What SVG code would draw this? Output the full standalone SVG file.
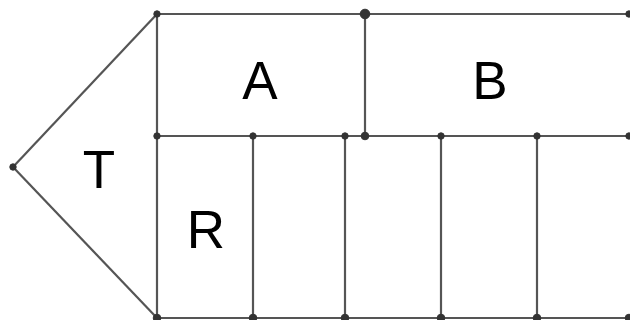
<svg xmlns="http://www.w3.org/2000/svg" width="630" height="320" viewBox="0 0 630 320">
<style>
.ln{stroke:#555;stroke-width:2.2;fill:none}
.pt{fill:#333;stroke:#333;stroke-width:1}
.lb{font-family:"Liberation Sans",Arial,sans-serif;font-size:53px;fill:#000;text-anchor:middle}
</style>
<rect width="630" height="320" fill="#fff"/>
<g id="connectors">
<line class="ln" x1="13" y1="167" x2="157" y2="14"/>
<line class="ln" x1="13" y1="167" x2="157" y2="318"/>
<line class="ln" x1="157" y1="14" x2="630" y2="14"/>
<line class="ln" x1="157" y1="136" x2="630" y2="136"/>
<line class="ln" x1="157" y1="318" x2="630" y2="318"/>
<line class="ln" x1="157" y1="14" x2="157" y2="318"/>
<line class="ln" x1="365" y1="14" x2="365" y2="136"/>
<line class="ln" x1="253" y1="136" x2="253" y2="318"/>
<line class="ln" x1="345" y1="136" x2="345" y2="318"/>
<line class="ln" x1="441" y1="136" x2="441" y2="318"/>
<line class="ln" x1="537" y1="136" x2="537" y2="318"/>
</g>
<g id="points">
<circle class="pt" cx="13" cy="167" r="3.2"/>
<circle class="pt" cx="157" cy="14" r="3.2"/>
<circle class="pt" cx="157" cy="136" r="3.2"/>
<circle class="pt" cx="157" cy="318" r="3.8"/>
<circle class="pt" cx="365" cy="14" r="4.8"/>
<circle class="pt" cx="365" cy="136" r="3.8"/>
<circle class="pt" cx="253" cy="136" r="3.2"/>
<circle class="pt" cx="345" cy="136" r="3.2"/>
<circle class="pt" cx="441" cy="136" r="3.2"/>
<circle class="pt" cx="537" cy="136" r="3.2"/>
<circle class="pt" cx="629" cy="136" r="3.2"/>
<circle class="pt" cx="253" cy="318" r="3.8"/>
<circle class="pt" cx="345" cy="318" r="3.8"/>
<circle class="pt" cx="441" cy="318" r="3.8"/>
<circle class="pt" cx="537" cy="318" r="3.8"/>
<circle class="pt" cx="629" cy="318" r="3.8"/>
<circle class="pt" cx="629" cy="14" r="3.2"/>
</g>
<g id="T"><text class="lb" x="99" y="188">T</text></g>
<g id="A"><text class="lb" x="260" y="99">A</text></g>
<g id="B"><text class="lb" x="490" y="99">B</text></g>
<g id="R"><text class="lb" x="206" y="248">R</text></g>
</svg>
